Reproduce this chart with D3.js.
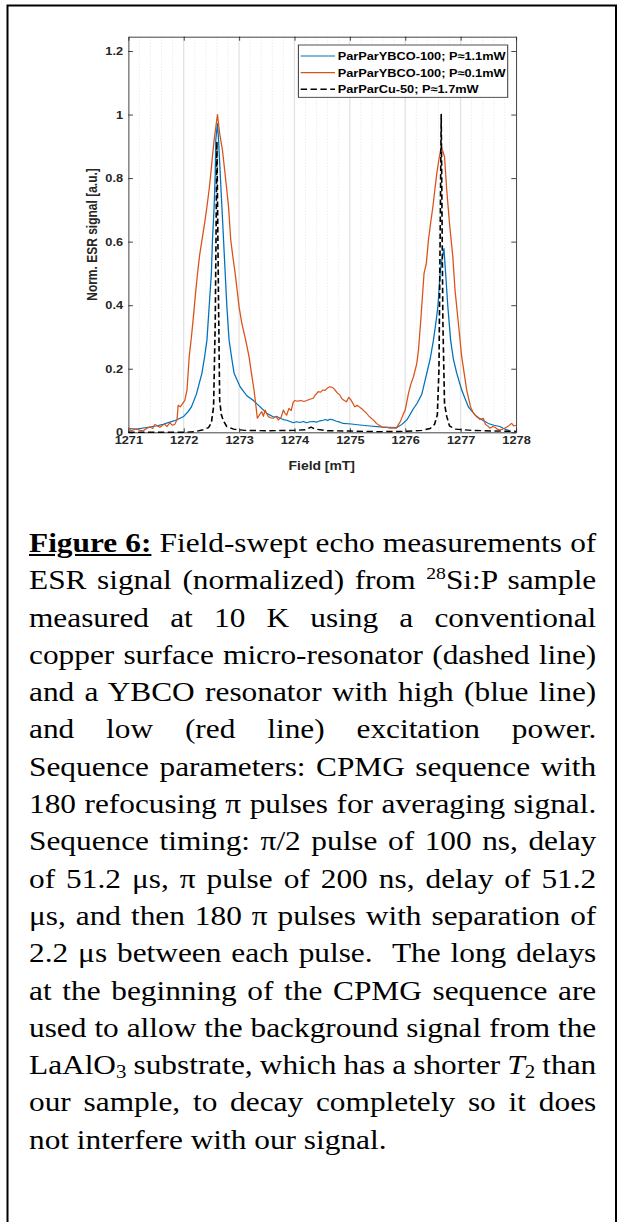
<!DOCTYPE html>
<html>
<head>
<meta charset="utf-8">
<style>
  body { margin: 0; background: #fff; overflow: hidden; }
  #page { position: relative; width: 619px; height: 1222px; }
  #page svg { position: absolute; left: 0; top: 0; }
  .tick text { font-family: "Liberation Sans", Arial, sans-serif; font-weight: bold; font-size: 11px; fill: #262626; }
  .axis path, .axis line { stroke: #262626; stroke-width: 0.8; }
  .label { font-family: "Liberation Sans", Arial, sans-serif; font-weight: bold; font-size: 12px; fill: #262626; }
  .legend text { font-family: "Liberation Sans", Arial, sans-serif; font-weight: bold; font-size: 11px; fill: #000; }
  .grid-major { stroke: #e2e2e2; stroke-width: 1.1; }
  .grid-minor { stroke: #d6d6d6; stroke-width: 0.6; stroke-dasharray: 1,2; }
  .series { fill: none; stroke-linejoin: round; }
  #caption { position: absolute; left: 29px; top: 525px; width: 500px;
             transform: scaleX(1.16); transform-origin: 0 0;
             font-family: "Liberation Serif", "Times New Roman", serif; font-size: 27px; color: #000; }
  #caption div { height: 37.3px; line-height: 37.3px; white-space: nowrap; }
  #caption span.ln { display: inline-block; white-space: nowrap; }
  #caption sup { font-size: 17px; vertical-align: 0; position: relative; top: -10px; line-height: 0; }
  #caption sub { font-size: 18px; vertical-align: 0; position: relative; top: 4px; line-height: 0; }
</style>
</head>
<body>
<div id="page">
  <svg id="chart" width="619" height="1222"></svg>
  <div id="caption"></div>
</div>

<script src="https://d3js.org/d3.v7.min.js"></script>
<script>
// ---- data ----
const xTicks = [1271, 1272, 1273, 1274, 1275, 1276, 1277, 1278]
const yTicks = [0, 0.2, 0.4, 0.6, 0.8, 1, 1.2]

const seriesNames = [
    "ParParYBCO-100; P\u22481.1mW",
    "ParParYBCO-100; P\u22480.1mW",
    "ParParCu-50; P\u22481.7mW"
]

// YBCO, high power (blue)
const fieldBlue = [1271.00, 1271.15, 1271.33, 1271.50, 1271.63, 1271.75, 1271.87, 1272.00, 1272.08, 1272.14,
    1272.23, 1272.33, 1272.38, 1272.42, 1272.46, 1272.50, 1272.52, 1272.55, 1272.57, 1272.58,
    1272.61, 1272.63, 1272.66, 1272.69, 1272.72, 1272.75, 1272.78, 1272.82, 1272.87, 1272.91,
    1273.02, 1273.14, 1273.26, 1273.38, 1273.50, 1273.58, 1273.62, 1273.68, 1273.74, 1273.80,
    1273.86, 1273.92, 1273.98, 1274.04, 1274.10, 1274.16, 1274.22, 1274.28, 1274.34, 1274.40,
    1274.46, 1274.52, 1274.56, 1274.60, 1274.64, 1274.70, 1274.76, 1274.82, 1274.88, 1275.03,
    1275.18, 1275.36, 1275.54, 1275.70, 1275.85, 1275.94, 1276.03, 1276.15, 1276.21, 1276.30,
    1276.39, 1276.45, 1276.51, 1276.55, 1276.59, 1276.63, 1276.66, 1276.70, 1276.73, 1276.77,
    1276.82, 1276.87, 1276.93, 1277.02, 1277.14, 1277.29, 1277.40, 1277.50, 1277.60, 1277.71,
    1277.80, 1277.89]
const signalBlue = [0.012, 0.010, 0.015, 0.020, 0.025, 0.032, 0.039, 0.050, 0.065, 0.080,
    0.120, 0.186, 0.240, 0.290, 0.395, 0.500, 0.605, 0.710, 0.814, 0.920,
    0.972, 0.920, 0.814, 0.710, 0.605, 0.500, 0.395, 0.290, 0.230, 0.186,
    0.143, 0.115, 0.100, 0.080, 0.060, 0.052, 0.048, 0.050, 0.044, 0.040,
    0.038, 0.034, 0.030, 0.033, 0.031, 0.034, 0.030, 0.033, 0.034, 0.032,
    0.036, 0.038, 0.040, 0.037, 0.041, 0.039, 0.035, 0.032, 0.028, 0.026,
    0.023, 0.020, 0.017, 0.016, 0.015, 0.025, 0.039, 0.075, 0.090, 0.120,
    0.186, 0.230, 0.290, 0.340, 0.395, 0.500, 0.540, 0.578, 0.500, 0.395,
    0.290, 0.230, 0.186, 0.133, 0.080, 0.049, 0.038, 0.028, 0.022, 0.018,
    0.010, 0.005]

// YBCO, low power (red)
const fieldRed = [1271.00, 1271.05, 1271.10, 1271.15, 1271.22, 1271.27, 1271.33, 1271.39, 1271.44, 1271.48,
    1271.53, 1271.57, 1271.62, 1271.66, 1271.70, 1271.75, 1271.80, 1271.84, 1271.88, 1271.90,
    1271.94, 1271.97, 1272.02, 1272.06, 1272.10, 1272.14, 1272.17, 1272.21, 1272.25, 1272.29,
    1272.33, 1272.38, 1272.42, 1272.46, 1272.49, 1272.52, 1272.55, 1272.58, 1272.61, 1272.65,
    1272.70, 1272.76, 1272.81, 1272.85, 1272.89, 1272.93, 1272.97, 1273.00, 1273.05, 1273.12,
    1273.18, 1273.22, 1273.27, 1273.30, 1273.33, 1273.37, 1273.41, 1273.44, 1273.47, 1273.50,
    1273.53, 1273.58, 1273.62, 1273.67, 1273.71, 1273.76, 1273.80, 1273.83, 1273.86, 1273.90,
    1273.94, 1273.98, 1274.01, 1274.06, 1274.12, 1274.17, 1274.22, 1274.28, 1274.34, 1274.38,
    1274.43, 1274.47, 1274.51, 1274.55, 1274.60, 1274.64, 1274.68, 1274.72, 1274.77, 1274.82,
    1274.86, 1274.90, 1274.94, 1274.98, 1275.02, 1275.06, 1275.09, 1275.13, 1275.17, 1275.21,
    1275.25, 1275.30, 1275.34, 1275.39, 1275.44, 1275.48, 1275.53, 1275.60, 1275.66, 1275.72,
    1275.78, 1275.84, 1275.88, 1275.91, 1275.96, 1276.00, 1276.06, 1276.10, 1276.15, 1276.21,
    1276.24, 1276.28, 1276.34, 1276.38, 1276.42, 1276.46, 1276.50, 1276.54, 1276.57, 1276.61,
    1276.65, 1276.68, 1276.71, 1276.75, 1276.80, 1276.86, 1276.90, 1276.96, 1277.02, 1277.07,
    1277.11, 1277.18, 1277.22, 1277.26, 1277.30, 1277.35, 1277.41, 1277.45, 1277.49, 1277.53,
    1277.58, 1277.62, 1277.66, 1277.71, 1277.76, 1277.83, 1277.88, 1277.92, 1277.96, 1278.00]
const signalRed = [0.016, 0.005, 0.008, 0.010, 0.006, 0.005, 0.012, 0.017, 0.012, 0.025,
    0.020, 0.016, 0.022, 0.025, 0.018, 0.030, 0.022, 0.025, 0.040, 0.085,
    0.080, 0.088, 0.100, 0.133, 0.238, 0.300, 0.353, 0.430, 0.500, 0.560,
    0.605, 0.660, 0.710, 0.765, 0.814, 0.870, 0.920, 0.960, 1.000, 0.940,
    0.888, 0.793, 0.710, 0.605, 0.550, 0.500, 0.440, 0.395, 0.343, 0.290,
    0.238, 0.190, 0.133, 0.090, 0.044, 0.055, 0.065, 0.050, 0.070, 0.058,
    0.049, 0.045, 0.044, 0.050, 0.039, 0.048, 0.070, 0.060, 0.054, 0.075,
    0.068, 0.096, 0.100, 0.098, 0.100, 0.097, 0.100, 0.104, 0.107, 0.118,
    0.128, 0.126, 0.133, 0.132, 0.140, 0.143, 0.142, 0.136, 0.125, 0.117,
    0.105, 0.100, 0.096, 0.110, 0.102, 0.090, 0.080, 0.085, 0.080, 0.075,
    0.068, 0.060, 0.052, 0.044, 0.036, 0.028, 0.022, 0.015, 0.016, 0.013,
    0.014, 0.013, 0.025, 0.033, 0.055, 0.070, 0.123, 0.150, 0.175, 0.217,
    0.260, 0.350, 0.500, 0.530, 0.605, 0.660, 0.710, 0.770, 0.814, 0.860,
    0.898, 0.885, 0.867, 0.762, 0.657, 0.552, 0.447, 0.343, 0.238, 0.180,
    0.133, 0.080, 0.065, 0.054, 0.050, 0.040, 0.044, 0.025, 0.020, 0.013,
    0.018, 0.016, 0.010, 0.007, 0.010, 0.016, 0.022, 0.028, 0.020, 0.022]

// copper resonator (dashed)
const fieldCu = [1271.00, 1271.50, 1272.00, 1272.20, 1272.35, 1272.45, 1272.50, 1272.54, 1272.57, 1272.60,
    1272.63, 1272.65, 1272.68, 1272.72, 1272.78, 1272.90, 1273.10, 1273.50, 1274.00, 1274.20,
    1274.30, 1274.38, 1274.60, 1275.00, 1275.50, 1276.00, 1276.30, 1276.45, 1276.53, 1276.58,
    1276.61, 1276.65, 1276.68, 1276.71, 1276.75, 1276.80, 1276.90, 1277.20, 1277.60, 1278.00]
const signalCu = [0.000, 0.000, 0.000, 0.002, 0.008, 0.015, 0.030, 0.080, 0.350, 0.915,
    0.400, 0.100, 0.055, 0.035, 0.018, 0.010, 0.006, 0.005, 0.006, 0.008,
    0.016, 0.010, 0.005, 0.004, 0.002, 0.003, 0.006, 0.012, 0.025, 0.055,
    0.200, 1.000, 0.350, 0.090, 0.050, 0.020, 0.010, 0.006, 0.004, 0.003]

const captionLines = [
    '<b><u>Figure 6:</u></b> Field-swept echo measurements of',
    'ESR signal (normalized) from <sup>28</sup>Si:P sample',
    'measured at 10 K using a conventional',
    'copper surface micro-resonator (dashed line)',
    'and a YBCO resonator with high (blue line)',
    'and low (red line) excitation power.',
    'Sequence parameters: CPMG sequence with',
    '180 refocusing \u03c0 pulses for averaging signal.',
    'Sequence timing: \u03c0/2 pulse of 100 ns, delay',
    'of 51.2 \u03bcs, \u03c0 pulse of 200 ns, delay of 51.2',
    '\u03bcs, and then 180 \u03c0 pulses with separation of',
    '2.2 \u03bcs between each pulse.&nbsp; The long delays',
    'at the beginning of the CPMG sequence are',
    'used to allow the background signal from the',
    'LaAlO<sub>3</sub> substrate, which has a shorter <i>T</i><sub>2</sub> than',
    'our sample, to decay completely so it does',
    'not interfere with our signal.'
]

// ---- layout ----
const stretch = 1.16            // the source figure is stretched sideways
const plotLeft = 110.6, plotRight = 444.8, plotTop = 36.7, plotBottom = 432.3
const captionWidth = 489        // justified line width before the stretch

let svg = d3.select("#chart")

// outer frame
svg.append("path")
    .attr("d", "M7.5,1230 V5.5 H616 V1230")
    .attr("fill", "none")
    .attr("stroke", "#000")
    .attr("stroke-width", 2)

let body = svg.append("g").attr("transform", "scale(" + stretch + ",1)")

let xScale = d3.scaleLinear().domain([1271, 1278]).range([plotLeft, plotRight])
let yScale = d3.scaleLinear().domain([0, 1.245]).range([plotBottom, plotTop])

// vertical grid (minor dotted every 0.2, major at integers)
let minor = d3.range(1, 35).map(i => 1271 + i * 0.2).filter(v => Math.abs(v - Math.round(v)) > 0.01)
body.append("g").selectAll("line").data(minor).join("line")
    .attr("class", "grid-minor")
    .attr("x1", d => xScale(d)).attr("x2", d => xScale(d))
    .attr("y1", plotTop).attr("y2", plotBottom)
body.append("g").selectAll("line").data(xTicks.slice(1, -1)).join("line")
    .attr("class", "grid-major")
    .attr("x1", d => xScale(d)).attr("x2", d => xScale(d))
    .attr("y1", plotTop).attr("y2", plotBottom)

// axes, ticks pointing inward on all four sides
body.append("g").attr("class", "axis")
    .attr("transform", "translate(0," + plotBottom + ")")
    .call(d3.axisBottom(xScale).tickValues(xTicks).tickSizeInner(-4).tickSizeOuter(0).tickPadding(3.5)
        .tickFormat(d3.format("d")))
body.append("g").attr("class", "axis")
    .attr("transform", "translate(0," + plotTop + ")")
    .call(d3.axisTop(xScale).tickValues(xTicks).tickSizeInner(-4).tickSizeOuter(0).tickFormat(""))
body.append("g").attr("class", "axis")
    .attr("transform", "translate(" + plotLeft + ",0)")
    .call(d3.axisLeft(yScale).tickValues(yTicks).tickSizeInner(-4).tickSizeOuter(0).tickPadding(4.5)
        .tickFormat(d3.format("~g")))
body.append("g").attr("class", "axis")
    .attr("transform", "translate(" + plotRight + ",0)")
    .call(d3.axisRight(yScale).tickValues(yTicks).tickSizeInner(-4).tickSizeOuter(0).tickFormat(""))

// curves
let series = [
    { name: seriesNames[0], field: fieldBlue, signal: signalBlue, color: "#0072BD", width: 1.1, dash: null },
    { name: seriesNames[1], field: fieldRed, signal: signalRed, color: "#D95319", width: 1.1, dash: null },
    { name: seriesNames[2], field: fieldCu, signal: signalCu, color: "#000000", width: 1.4, dash: "5.5,3" }
]

let line = d3.line()
    .x(d => xScale(d[0]))
    .y(d => yScale(d[1]))

series.forEach(s => {
    body.append("path")
        .datum(d3.zip(s.field, s.signal))
        .attr("class", "series")
        .attr("d", line)
        .attr("stroke", s.color)
        .attr("stroke-width", s.width)
        .attr("stroke-dasharray", s.dash)
})

// axis labels
body.append("text")
    .attr("class", "label")
    .attr("x", (plotLeft + plotRight) / 2 - 0.3)
    .attr("y", 470.5)
    .attr("text-anchor", "middle")
    .text("Field [mT]")
body.append("text")
    .attr("class", "label")
    .attr("transform", "translate(83.7," + (plotTop + plotBottom) / 2 + ") rotate(-90)")
    .attr("text-anchor", "middle")
    .text("Norm. ESR signal [a.u.]")

// legend
let legend = body.append("g").attr("class", "legend")
legend.append("rect")
    .attr("x", 257.2).attr("y", 45)
    .attr("width", 180.5).attr("height", 52.3)
    .attr("fill", "#fff")
    .attr("stroke", "#262626")
    .attr("stroke-width", 0.8)
series.forEach((s, i) => {
    let yy = 56 + i * 16.65
    legend.append("line")
        .attr("x1", 259.2).attr("x2", 288.8)
        .attr("y1", yy).attr("y2", yy)
        .attr("stroke", s.color)
        .attr("stroke-width", s.width)
        .attr("stroke-dasharray", s.dash)
    legend.append("text")
        .attr("x", 291.1).attr("y", yy)
        .attr("dy", "0.36em")
        .text(s.name)
})

// caption: one div per line, justified by spreading the word gaps
d3.select("#caption").selectAll("div")
    .data(captionLines)
    .join("div")
    .each(function (d, i) {
        let span = d3.select(this).append("span").attr("class", "ln").html(d)
        if (i === captionLines.length - 1) return
        let natural = span.node().getBoundingClientRect().width / stretch
        let gaps = (span.node().textContent.match(/[ \u00a0]/g) || []).length
        span.style("word-spacing", ((captionWidth - natural) / gaps) + "px")
    })
</script>
</body>
</html>
